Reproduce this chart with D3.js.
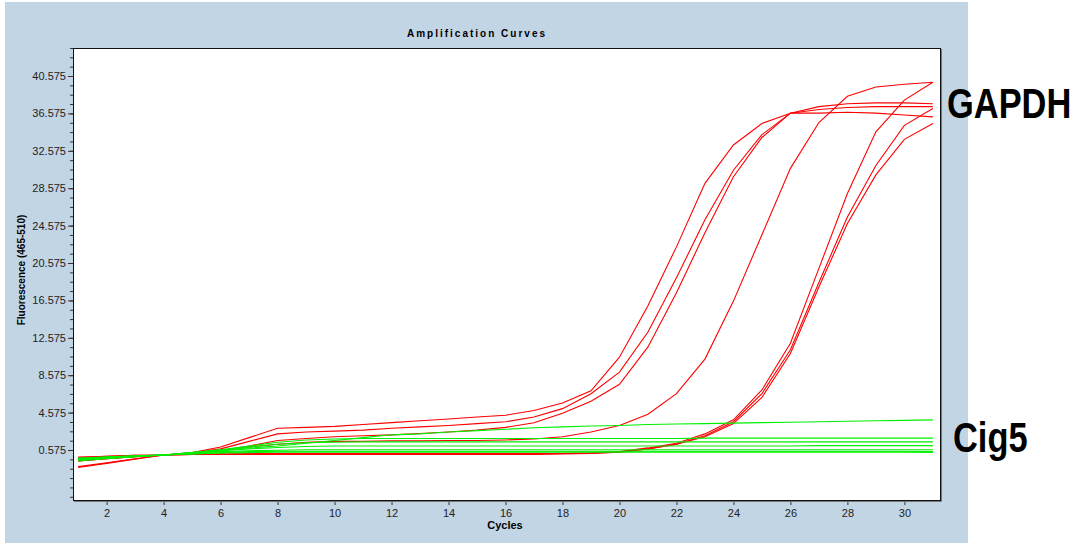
<!DOCTYPE html>
<html>
<head>
<meta charset="utf-8">
<script src="https://cdn.jsdelivr.net/npm/d3@7"></script>
<style>
  body { margin: 0; background: #fff; }
  text { font-family: "Liberation Sans", Arial, sans-serif; }
</style>
</head>
<body>
<div id="chart"></div>
<script>
// cycles (axe x)
const cycles = [1,2,3,4,5,6,7,8,9,10,11,12,13,14,15,16,17,18,19,20,21,22,23,24,25,26,27,28,29,30,31];
const xTicks = [2,4,6,8,10,12,14,16,18,20,22,24,26,28,30];
const yTicks = [0.575,4.575,8.575,12.575,16.575,20.575,24.575,28.575,32.575,36.575,40.575];

// GAPDH (rouge)
const gapdhA1 = [-0.2,-0.1,0.0,0.05,0.3,0.9,1.9,2.9,3.0,3.1,3.3,3.5,3.7,3.9,4.1,4.3,4.8,5.6,6.9,10.5,16.0,22.3,29.1,33.2,35.5,36.6,37.3,37.6,37.7,37.7,37.6];
const gapdhA2 = [-0.3,-0.15,-0.05,0.05,0.25,0.7,1.5,2.3,2.5,2.6,2.7,2.9,3.05,3.2,3.4,3.6,4.1,5.0,6.6,8.9,13.2,19.0,25.2,30.5,34.3,36.6,37.0,37.2,37.3,37.3,37.3];
const gapdhA3 = [-0.6,-0.35,-0.15,0.05,0.2,0.5,1.0,1.6,1.8,2.0,2.1,2.2,2.35,2.5,2.7,3.0,3.5,4.5,5.8,7.6,11.6,17.4,23.8,29.8,34.0,36.6,36.6,36.7,36.6,36.4,36.2];
const gapdhB = [-0.2,-0.1,0.0,0.05,0.2,0.5,0.9,1.2,1.4,1.5,1.5,1.55,1.55,1.6,1.6,1.65,1.75,2.0,2.5,3.2,4.4,6.6,10.3,16.5,23.6,30.7,35.6,38.4,39.4,39.7,39.9];
const gapdhC1 = [-1.3,-0.85,-0.4,0.05,0.1,0.15,0.15,0.15,0.15,0.15,0.15,0.15,0.15,0.15,0.15,0.15,0.15,0.2,0.25,0.4,0.8,1.3,2.3,3.8,7.0,12.0,20.0,28.0,34.6,38.0,39.9];
const gapdhC2 = [-1.2,-0.8,-0.35,0.05,0.1,0.15,0.2,0.2,0.2,0.2,0.2,0.2,0.2,0.2,0.2,0.2,0.2,0.2,0.25,0.35,0.7,1.2,2.1,3.6,6.6,11.3,18.5,25.5,31.0,35.3,37.1];
const gapdhC3 = [-0.6,-0.35,-0.15,0.05,0.1,0.1,0.1,0.1,0.1,0.1,0.1,0.1,0.1,0.1,0.1,0.1,0.1,0.15,0.2,0.35,0.7,1.2,2.0,3.4,6.2,10.9,18.0,24.8,30.0,33.8,35.5];

// Cig5 (vert)
const cig5G1 = [-0.5,-0.3,-0.1,0.05,0.3,0.6,0.8,1.0,1.3,1.6,1.9,2.2,2.3,2.5,2.65,2.8,2.95,3.05,3.15,3.2,3.3,3.35,3.4,3.45,3.5,3.55,3.6,3.65,3.7,3.75,3.8];
const cig5G2 = [-0.4,-0.25,-0.1,0.05,0.3,0.6,1.0,1.4,1.65,1.75,1.8,1.8,1.8,1.8,1.8,1.8,1.8,1.8,1.8,1.8,1.8,1.8,1.85,1.85,1.85,1.85,1.85,1.85,1.85,1.85,1.85];
const cig5G3 = [-0.5,-0.3,-0.1,0.05,0.3,0.55,0.9,1.2,1.35,1.4,1.45,1.45,1.45,1.45,1.45,1.45,1.45,1.45,1.45,1.45,1.45,1.45,1.45,1.45,1.45,1.45,1.45,1.45,1.45,1.45,1.45];
const cig5G4 = [-0.3,-0.15,-0.05,0.05,0.25,0.5,0.7,0.85,0.95,1.0,1.0,1.0,1.0,1.0,1.0,1.0,1.0,1.0,1.0,1.0,1.0,1.0,1.0,1.0,1.0,1.0,1.05,1.05,1.05,1.05,1.05];
const cig5G5 = [-0.6,-0.35,-0.15,0.05,0.2,0.4,0.5,0.55,0.6,0.6,0.6,0.6,0.6,0.6,0.6,0.6,0.6,0.6,0.6,0.6,0.6,0.6,0.6,0.6,0.6,0.6,0.6,0.6,0.6,0.6,0.6];
const cig5G6 = [-0.4,-0.25,-0.1,0.05,0.15,0.3,0.4,0.45,0.45,0.45,0.45,0.45,0.45,0.45,0.45,0.45,0.45,0.45,0.45,0.45,0.45,0.45,0.45,0.45,0.45,0.45,0.45,0.45,0.45,0.45,0.42];
const cig5G7 = [-0.3,-0.2,-0.05,0.05,0.15,0.25,0.3,0.35,0.35,0.35,0.35,0.35,0.35,0.35,0.35,0.35,0.35,0.35,0.35,0.35,0.35,0.35,0.35,0.35,0.35,0.35,0.35,0.35,0.35,0.35,0.32];

const redSeries = [gapdhA1, gapdhA2, gapdhA3, gapdhB, gapdhC1, gapdhC2, gapdhC3];
const greenSeries = [cig5G1, cig5G2, cig5G3, cig5G4, cig5G5, cig5G6, cig5G7];

const width = 1085, height = 546;
const plot = { left: 73, top: 48, right: 940, bottom: 500 };

const svg = d3.select("#chart").append("svg")
  .attr("width", width)
  .attr("height", height);

// fond bleu
svg.append("rect")
  .attr("x", 5).attr("y", 2)
  .attr("width", 963).attr("height", 541)
  .attr("fill", "#c2d5e5");

svg.append("rect")
  .attr("x", plot.left).attr("y", plot.top)
  .attr("width", plot.right - plot.left).attr("height", plot.bottom - plot.top)
  .attr("fill", "#fff");

const x = d3.scaleLinear().domain([0.82, 31.25]).range([plot.left, plot.right]);
const y = d3.scaleLinear().domain([-4.77, 43.57]).range([plot.bottom, plot.top]);

// axe y
svg.append("g")
  .attr("transform", "translate(" + plot.left + ",0)")
  .call(d3.axisLeft(y).tickValues(yTicks).tickFormat(d3.format(".3f")).tickSize(5).tickPadding(2));
svg.append("g")
  .attr("transform", "translate(" + plot.left + ",0)")
  .call(d3.axisLeft(y).tickValues(d3.range(-4.425, 43.6, 1)).tickFormat("").tickSize(3));

// axe x
svg.append("g")
  .attr("transform", "translate(0," + plot.bottom + ")")
  .call(d3.axisBottom(x).tickValues(xTicks).tickSize(5).tickPadding(4));

svg.selectAll(".tick text")
  .style("font-family", "'Liberation Sans', Arial, sans-serif")
  .style("font-size", "11px")
  .attr("fill", "#222");
svg.selectAll(".tick line").attr("stroke", "#333");
svg.selectAll(".domain").remove();

// courbes
svg.append("clipPath").attr("id", "clip")
  .append("rect")
  .attr("x", plot.left).attr("y", plot.top)
  .attr("width", plot.right - plot.left).attr("height", plot.bottom - plot.top);

const line = d3.line()
  .x((d, i) => x(cycles[i]))
  .y(d => y(d));

const curves = svg.append("g").attr("clip-path", "url(#clip)");

curves.selectAll(".red")
  .data(redSeries)
  .join("path")
  .attr("class", "red")
  .attr("d", line)
  .attr("fill", "none")
  .attr("stroke", "#ff0000")
  .attr("stroke-width", 1.1);

curves.selectAll(".green")
  .data(greenSeries)
  .join("path")
  .attr("class", "green")
  .attr("d", line)
  .attr("fill", "none")
  .attr("stroke", "#00f000")
  .attr("stroke-width", 1.1);

// cadre
svg.append("rect")
  .attr("x", plot.left + 0.5).attr("y", plot.top + 0.5)
  .attr("width", plot.right - plot.left).attr("height", plot.bottom - plot.top)
  .attr("fill", "none")
  .attr("stroke", "#111")
  .attr("stroke-width", 1);
svg.append("path")
  .attr("d", "M" + (plot.right + 1.5) + "," + (plot.top + 1) + "V" + (plot.bottom + 1.5) + "H" + (plot.left + 1))
  .attr("fill", "none")
  .attr("stroke", "#777")
  .attr("stroke-width", 1);

// titres
svg.append("text")
  .attr("x", 477).attr("y", 37)
  .attr("text-anchor", "middle")
  .style("font-size", "10px")
  .style("font-weight", "bold")
  .style("letter-spacing", "2px")
  .text("Amplification Curves");

svg.append("text")
  .attr("transform", "translate(25,270) rotate(-90)")
  .attr("text-anchor", "middle")
  .style("font-size", "10px")
  .style("font-weight", "bold")
  .text("Fluorescence (465-510)");

svg.append("text")
  .attr("x", 505).attr("y", 529)
  .attr("text-anchor", "middle")
  .style("font-size", "11px")
  .style("font-weight", "bold")
  .text("Cycles");

// etiquettes des genes (police etroite obtenue par mise a l'echelle)
svg.append("text")
  .attr("transform", "translate(947,118) scale(0.82,1)")
  .style("font-size", "42px")
  .style("font-weight", "bold")
  .text("GAPDH");

svg.append("text")
  .attr("transform", "translate(953,452) scale(0.82,1)")
  .style("font-size", "42px")
  .style("font-weight", "bold")
  .text("Cig5");
</script>
</body>
</html>
